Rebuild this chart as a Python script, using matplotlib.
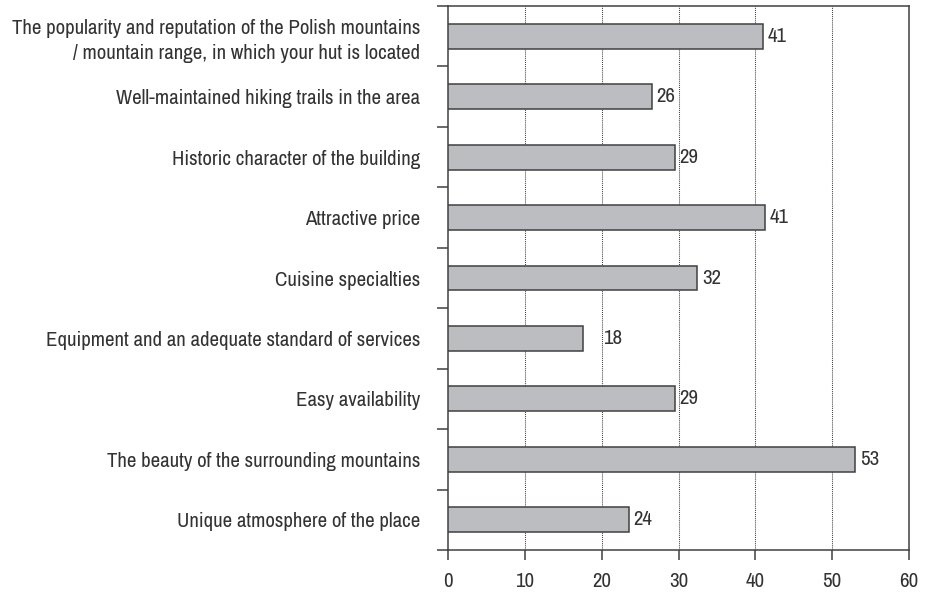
import numpy as np
import matplotlib
matplotlib.use("Agg")
from matplotlib import pyplot as plt
from matplotlib.ticker import FixedLocator

categories = [
    "The popularity and reputation of the Polish mountains\n/ mountain range, in which your hut is located",
    "Well-maintained hiking trails in the area",
    "Historic character of the building",
    "Attractive price",
    "Cuisine specialties",
    "Equipment and an adequate standard of services",
    "Easy availability",
    "The beauty of the surrounding mountains",
    "Unique atmosphere of the place",
]
values = [41.0, 26.5, 29.5, 41.25, 32.4, 17.6, 29.5, 53.0, 23.5]
labels = [41, 26, 29, 41, 32, 18, 29, 53, 24]
label_pad = [3.5, 3.5, 3.5, 3.5, 3.5, 14.5, 3.5, 3.5, 3.5]  # the "18" sits further out in the original
xticks = [0, 10, 20, 30, 40, 50, 60]

plt.rcParams['font.family'] = ['Archivo Narrow', 'DejaVu Sans']
text_col = '#333333'
line_col = '#404040'
fs = 15

fig = plt.figure(figsize=(9.26, 5.94), dpi=100)
ax = fig.add_axes([448 / 926, 1 - 550 / 594, (909 - 448) / 926, (550 - 6) / 594])

y = np.arange(len(categories))
ax.barh(y, values, height=0.41, color='#bcbdc0', edgecolor=line_col, linewidth=1.1, zorder=3)

for yi, v, lab, pad in zip(y, values, labels, label_pad):
    ax.annotate(str(lab), (v, yi), xytext=(pad, 0), textcoords='offset points',
                va='center', ha='left', fontsize=fs, color=text_col)

ax.set_xlim(0, 60)
ax.set_ylim(len(categories) - 0.5, -0.5)
ax.set_xticks(xticks)
ax.set_yticks(y)
ax.set_yticklabels(categories, linespacing=1.4)
ax.yaxis.set_minor_locator(FixedLocator(np.arange(-0.5, len(categories), 1.0)))

ax.tick_params(axis='y', which='major', length=0, pad=20, labelsize=fs, labelcolor=text_col)
ax.tick_params(axis='y', which='minor', length=8, width=1.1, color=line_col, direction='out')
ax.tick_params(axis='x', which='major', length=7, width=1.1, color=line_col, direction='out',
               pad=9, labelsize=fs, labelcolor=text_col)

for s in ax.spines.values():
    s.set_color(line_col)
    s.set_linewidth(1.1)

for gx in xticks[1:-1]:
    ax.axvline(gx, color=line_col, linestyle=(0, (1, 1)), linewidth=0.75, zorder=1)

fig.savefig("out.png", dpi=100)
